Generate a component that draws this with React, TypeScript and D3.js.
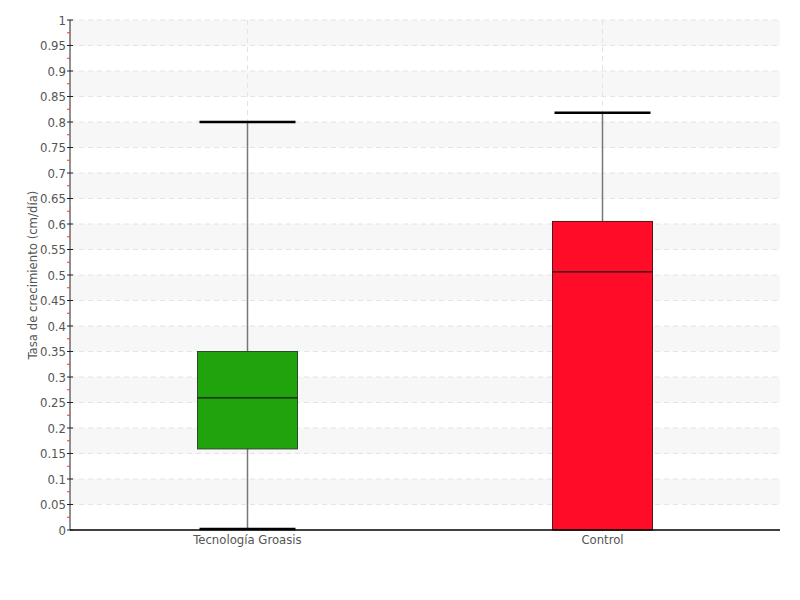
import React from "react";
import * as d3 from "d3";

const categories = ["Tecnología Groasis", "Control"];
const whiskerLow = [0, 0];
const q1Values = [0.159, 0];
const medianValues = [0.259, 0.506];
const q3Values = [0.35, 0.605];
const whiskerHigh = [0.8, 0.818];
const boxColors = ["#21a30d", "#ff0c28"];
const boxStrokes = ["#2c4a2c", "#5a1420"];
const yTicks = d3.range(0, 21).map((i) => +(i * 0.05).toFixed(2));
const yMinorTicks = d3.range(0, 20).map((i) => +(i * 0.05 + 0.025).toFixed(3));

const W = 800, H = 600;
const m = { left: 70, right: 20, top: 20, bottom: 70 };
const FONT = "'DejaVu Sans', sans-serif";

export default function App() {
  const x = d3.scalePoint<string>().domain(categories).range([m.left, W - m.right]).padding(0.5);
  const y = d3.scaleLinear().domain([0, 1]).range([H - m.bottom, m.top]);
  const x0 = m.left, x1 = W - m.right;
  const boxW = 100, capW = 96;
  const fmt = (v: number) => String(+v.toFixed(2));
  const txt = { fontSize: 13, fill: "#555", fontStretch: "condensed" as const };
  return (
    <svg width={W} height={H} style={{ position: "absolute", left: 0, top: 0, fontFamily: FONT, fontStretch: "condensed" }}>
      <rect width={W} height={H} fill="#fff" />
      {yTicks.slice(0, -1).map((t, i) =>
        i % 2 === 1 ? (
          <rect key={"b" + i} x={x0} y={y(t + 0.05)} width={x1 - x0} height={y(t) - y(t + 0.05)} fill="#f7f7f7" />
        ) : null
      )}
      {yTicks.slice(1).map((t) => (
        <line key={"g" + t} x1={x0} x2={x1} y1={y(t)} y2={y(t)} stroke="#e4e4e4" strokeDasharray="5,4" />
      ))}
      {categories.map((c) => (
        <line key={"vg" + c} x1={x(c)} x2={x(c)} y1={m.top} y2={y(0)} stroke="#e4e4e4" strokeDasharray="5,4" />
      ))}
      {categories.map((c, i) => {
        const cx = x(c)!;
        return (
          <g key={c}>
            <line x1={cx} x2={cx} y1={y(whiskerHigh[i])} y2={y(whiskerLow[i])} stroke="#777" strokeWidth={1.5} />
            <line x1={cx - capW / 2} x2={cx + capW / 2} y1={y(whiskerHigh[i])} y2={y(whiskerHigh[i])} stroke="#000" strokeWidth={2.5} />
            <line x1={cx - capW / 2} x2={cx + capW / 2} y1={y(whiskerLow[i]) - 1} y2={y(whiskerLow[i]) - 1} stroke="#000" strokeWidth={2.5} />
            <rect x={cx - boxW / 2} y={y(q3Values[i])} width={boxW} height={y(q1Values[i]) - y(q3Values[i])}
              fill={boxColors[i]} stroke={boxStrokes[i]} strokeWidth={1} />
            <line x1={cx - boxW / 2} x2={cx + boxW / 2} y1={y(medianValues[i])} y2={y(medianValues[i])} stroke="#1a1a1a" strokeWidth={1.2} />
          </g>
        );
      })}
      <line x1={x0} x2={x0} y1={m.top} y2={y(0)} stroke="#222" strokeWidth={1} />
      <line x1={x0} x2={x1} y1={y(0)} y2={y(0)} stroke="#000" strokeWidth={1.5} />
      {yMinorTicks.map((t) => (
        <line key={"mt" + t} x1={x0 - 3} x2={x0} y1={y(t)} y2={y(t)} stroke="#ff3333" strokeWidth={1} />
      ))}
      {yTicks.map((t) => (
        <g key={"t" + t}>
          <line x1={x0 - 3} x2={x0 + 3} y1={y(t)} y2={y(t)} stroke="#222" strokeWidth={1} />
          <text x={x0 - 4} y={y(t)} dy="0.35em" textAnchor="end" {...txt}>{fmt(t)}</text>
        </g>
      ))}
      {categories.map((c) => (
        <text key={"xl" + c} x={x(c)} y={y(0) + 14} textAnchor="middle" {...txt}>{c}</text>
      ))}
      <text transform={`translate(37,${(m.top + y(0)) / 2}) rotate(-90)`} textAnchor="middle" {...txt}>
        Tasa de crecimiento (cm/día)
      </text>
    </svg>
  );
}
